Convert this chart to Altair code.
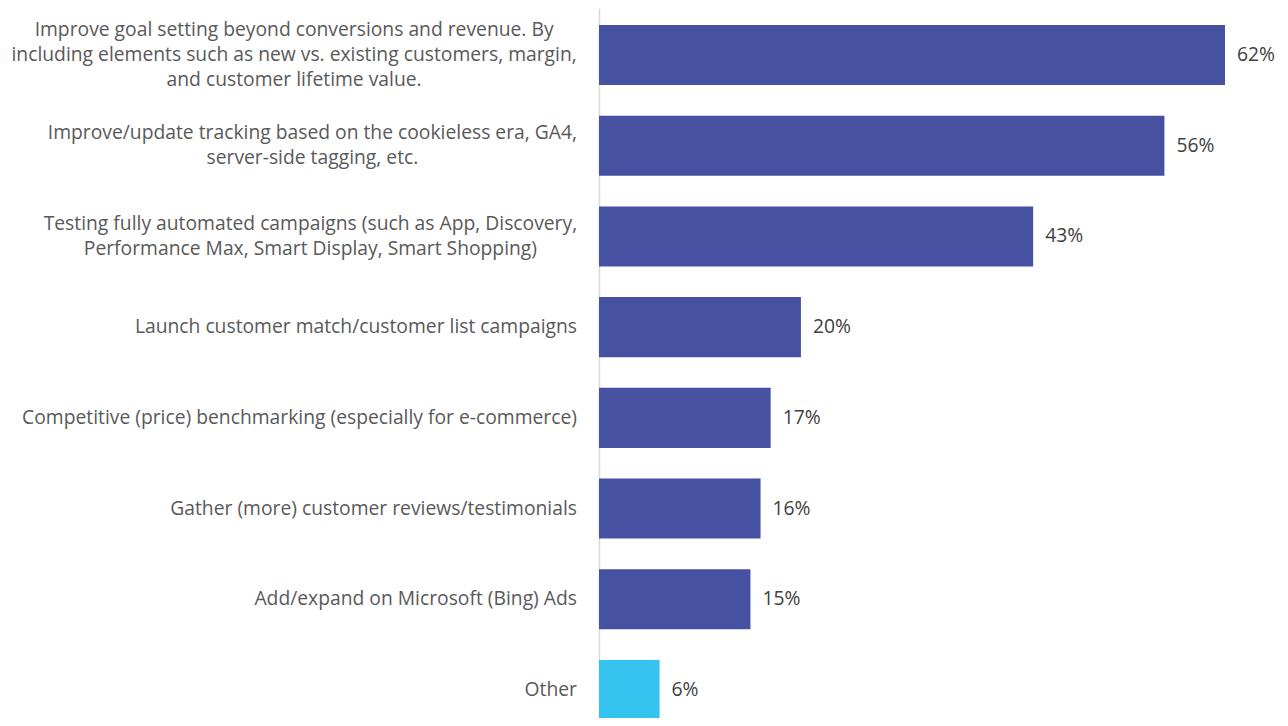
import altair as alt
import pandas as pd

categories = [
    "Improve goal setting beyond conversions and revenue. By|including elements such as new vs. existing customers, margin,|and customer lifetime value.",
    "Improve/update tracking based on the cookieless era, GA4,|server-side tagging, etc.",
    "Testing fully automated campaigns (such as App, Discovery,|Performance Max, Smart Display, Smart Shopping)",
    "Launch customer match/customer list campaigns",
    "Competitive (price) benchmarking (especially for e-commerce)",
    "Gather (more) customer reviews/testimonials",
    "Add/expand on Microsoft (Bing) Ads",
    "Other",
]
values = [62, 56, 43, 20, 17, 16, 15, 6]
groups = ["main", "main", "main", "main", "main", "main", "main", "other"]

# half block width of multi-line labels (layout helper so lines are centred within the block)
label_half_width = {categories[0]: 282.9, categories[1]: 264.6, categories[2]: 266.6}

df = pd.DataFrame({"category": categories, "value": values, "group": groups})
df["hw"] = [label_half_width.get(c, 0) for c in categories]
df["label"] = [f"{v}%" for v in values]

FONT = "Open Sans"
FS = 19.3
LH = 25

base = alt.Chart(df).encode(
    y=alt.Y(
        "category:N",
        sort=categories,
        scale=alt.Scale(range=[15, 710], paddingInner=0.338, paddingOuter=0),
        axis=None,
    )
)

bars = base.mark_bar().encode(
    x=alt.X(
        "value:Q",
        scale=alt.Scale(domain=[0, 62], nice=False),
        axis=alt.Axis(values=[0], grid=True, gridColor="#d9d9d9", gridWidth=1.5,
                      domain=False, ticks=False, labels=False, title=None),
    ),
    color=alt.Color("group:N", scale=alt.Scale(domain=["main", "other"], range=["#4651a1", "#35c4ef"]), legend=None),
)

vals = base.mark_text(align="left", baseline="middle", dx=12, font=FONT, fontSize=FS, color="#404040").encode(
    x="value:Q", text="label:N"
)

labels = base.transform_calculate(lines="split(datum.category, '|')").mark_text(
    align=alt.ExprRef("datum.hw > 0 ? 'center' : 'right'"),
    dx=alt.ExprRef("-22 - datum.hw"),
    dy=alt.ExprRef(f"-(length(datum.lines) - 1) * {LH / 2}"),
    baseline="middle",
    lineHeight=LH,
    font=FONT,
    fontSize=FS,
    color="#595959",
).encode(x=alt.datum(0), text="lines:N")

chart = alt.layer(bars, vals, labels).properties(
    width=626,
    height=708,
    padding={"left": 591, "top": 2, "right": 55, "bottom": 0},
    autosize=alt.AutoSizeParams(type="none"),
).configure_view(stroke=None)

chart.save("out.html", embed_options={"renderer": "svg", "actions": False})
